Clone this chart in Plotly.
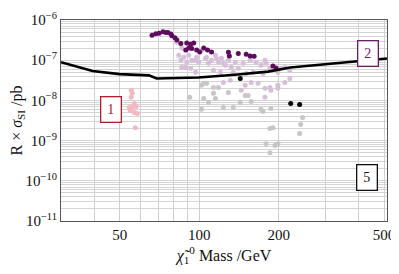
import math
import plotly.graph_objects as go

# Limit curve (black line)
limit_mass = [30, 37.5, 39.5, 50, 64.5, 69, 91, 99.4, 140, 182, 221, 478, 513]
limit_sigma = [8.9e-8, 5.9e-8, 5.4e-8, 4.5e-8, 4.2e-8, 3.5e-8, 3.55e-8, 3.7e-8, 4.4e-8, 5.2e-8, 6.6e-8, 1.07e-7, 1.1e-7]

# Dark purple points
dark_mass = [66.3, 68.5, 70.5, 72.9, 74.8, 76.1, 78.1, 78.8, 80.9, 82.3, 85.2, 88.9, 89.7, 92.8, 95.3,
             91.3, 93.7, 97.8, 100.4, 104, 107.5, 111.3, 128.9, 130, 140.5, 150.5, 155.8, 161.3, 190, 195]
dark_sigma = [4.2e-7, 4.55e-7, 4.7e-7, 5.1e-7, 4.9e-7, 4.9e-7, 4.5e-7, 4.05e-7, 3.6e-7, 3.2e-7, 2.6e-7, 1.8e-7, 2.66e-7, 2.5e-7, 2.66e-7,
              2.0e-7, 1.96e-7, 1.8e-7, 1.6e-7, 2.0e-7, 1.8e-7, 1.6e-7, 1.58e-7, 1.28e-7, 1.47e-7, 1.41e-7, 1.28e-7, 1.26e-7, 7.2e-8, 6.4e-8]

# Light lavender points
lav_mass = [85.9, 83.7, 87.4, 91.3, 85.2, 89.7, 93.7, 85.9, 92.8, 97.8, 99.5, 102, 105.7, 96.9, 82.3,
            88.9, 96.9, 106.6, 108.4, 111.3, 115.2, 118.2, 121.3, 125.6, 128.9, 132.2, 136.9, 140.5, 116.2,
            123.4, 146.6, 155.8, 164.1, 171.3, 178.9, 185.1, 113.2, 120.3, 134.5, 150.5, 159.9, 174.2, 201.8,
            103.9, 113.2, 123.4, 131.1, 149.2, 157.2, 166.9, 177.2, 185.1, 198.4, 210.7, 220, 144.1, 153.2,
            177.2, 186.7, 198.4, 177.2, 198.4, 210.7, 220]
lav_sigma = [2.0e-7, 1.33e-7, 1.19e-7, 1.33e-7, 1.0e-7, 8.9e-8, 1.0e-7, 6.7e-8, 6.3e-8, 1.19e-7, 8.9e-8, 1.78e-7, 1.12e-7, 5.0e-8, 2.8e-7,
             6.7e-8, 1.0e-7, 1.19e-7, 8.4e-8, 1.0e-7, 1.33e-7, 8.9e-8, 1.12e-7, 7.5e-8, 1.0e-7, 6.7e-8, 8.9e-8, 6.3e-8, 1.12e-7,
             8.4e-8, 8.4e-8, 1.0e-7, 8.9e-8, 7.5e-8, 8.4e-8, 6.3e-8, 5.6e-8, 5.0e-8, 5.0e-8, 4.7e-8, 5.0e-8, 4.7e-8, 6.3e-8,
             2.66e-8, 2.1e-8, 2.8e-8, 3.16e-8, 2.37e-8, 2.8e-8, 2.66e-8, 2.0e-8, 2.1e-8, 2.37e-8, 2.8e-8, 3.5e-8, 1.78e-8, 1.33e-8,
             1.19e-8, 1.78e-8, 2.0e-8, 1.0e-7, 5.0e-8, 6.7e-8, 5.6e-8]

# Grey points
grey_mass = [92, 102, 102, 106.6, 103.9, 108.4, 113.2, 118.2, 123.4, 128.9, 134.5, 142.9, 149.2, 157.2, 171.3,
             174.2, 186.7, 185.1, 190, 246, 241.8, 239.7, 178.9, 185.1, 193.3, 198.4, 115.2]
grey_sigma = [1.19e-8, 2.37e-8, 6.0e-9, 2.66e-8, 1.12e-8, 8.9e-9, 1.5e-8, 2.1e-8, 6.7e-9, 1.58e-8, 6.7e-9, 8.9e-9, 1.33e-8, 9.4e-9, 6.0e-9,
              5.3e-9, 6.3e-9, 2.0e-9, 2.1e-9, 3.76e-9, 2.5e-9, 1.5e-9, 8.4e-10, 5.0e-10, 7.5e-10, 8.4e-10, 1.12e-8]

# Black points
black_mass = [142.9, 221.8, 239.7]
black_sigma = [3.5e-8, 8.4e-9, 7.9e-9]

# Pink points (region 1)
pink_mass = [55.3, 55.8, 55.3, 56.8, 55.8, 57.8, 54.8, 56.8, 58.3, 57.3, 54.4]
pink_sigma = [1.78e-8, 1.5e-8, 1.19e-8, 8.4e-9, 6.7e-9, 7.1e-9, 5.6e-9, 5.0e-9, 4.7e-9, 2.1e-9, 6.7e-9]

# Region labels
region_labels = ["1", "2", "5"]
region_mass = [46.2, 435, 430]
region_sigma = [6.1e-9, 1.5e-7, 1.19e-10]
region_colors = ["#b0202a", "#6a1a6a", "#111111"]

# Ticks
x_labeled = [50, 100, 200, 500]
x_minor = [40, 60, 70, 80, 90, 300, 400]
y_decades = [-11, -10, -9, -8, -7, -6]

serif = "Liberation Serif, Times New Roman, serif"

fig = go.Figure()

def add_pts(xs, ys, color):
    fig.add_trace(go.Scatter(x=xs, y=ys, mode="markers",
                             marker=dict(size=5, color=color, line=dict(width=0)),
                             showlegend=False, hoverinfo="skip"))

add_pts(lav_mass, lav_sigma, "#d6bfd8")
add_pts(grey_mass, grey_sigma, "#c6c6c6")
add_pts(pink_mass, pink_sigma, "#f2b9c2")
add_pts(dark_mass, dark_sigma, "#5e0c5e")

fig.add_trace(go.Scatter(x=limit_mass, y=limit_sigma, mode="lines",
                         line=dict(color="black", width=2.6), showlegend=False, hoverinfo="skip"))
add_pts(black_mass, black_sigma, "#000000")

for lab, mx, sy, col in zip(region_labels, region_mass, region_sigma, region_colors):
    fig.add_annotation(x=math.log10(mx), y=math.log10(sy), xref="x", yref="y", text=lab, showarrow=False,
                       font=dict(family=serif, size=14, color=col),
                       bordercolor=col, borderwidth=1.3, borderpad=3, bgcolor="white",
                       width=13, height=18)

y_major = [10.0 ** d for d in y_decades]
y_text = [f"10<sup>\u2212{-d}</sup>" for d in y_decades]
y_minor = [k * 10.0 ** d for d in y_decades[:-1] for k in range(2, 10)]

fig.update_xaxes(type="log", range=[math.log10(30), math.log10(513)],
                 tickmode="array", tickvals=x_labeled, ticktext=[str(v) for v in x_labeled],
                 showgrid=True, gridcolor="#cfcfcf", gridwidth=1,
                 minor=dict(tickmode="array", tickvals=x_minor, showgrid=True,
                            gridcolor="#cfcfcf", gridwidth=1, ticks=""),
                 showline=True, linecolor="#555555", linewidth=1, mirror=True,
                 ticks="", zeroline=False, automargin=False, ticklabeloverflow="allow",
                 tickfont=dict(family=serif, size=15, color="#111111"),
                 title=dict(text="<i>\u03c7\u0303</i><sub>1</sub><sup>0</sup> Mass /GeV",
                            font=dict(family=serif, size=16, color="#111111"), standoff=10))
fig.update_yaxes(type="log", range=[-11, -6],
                 tickmode="array", tickvals=y_major, ticktext=y_text,
                 showgrid=True, gridcolor="#d4d4d4", gridwidth=1,
                 minor=dict(tickmode="array", tickvals=y_minor, showgrid=True,
                            gridcolor="#d4d4d4", gridwidth=1, ticks=""),
                 showline=True, linecolor="#555555", linewidth=1, mirror=True,
                 ticks="", zeroline=False, automargin=False,
                 tickfont=dict(family=serif, size=15, color="#111111"),
                 title=dict(text="R \u00d7 <i>\u03c3</i><sub>SI</sub> /pb",
                            font=dict(family=serif, size=16, color="#111111"), standoff=4))

# the page adds an 8px body margin; the figure is sized so the page fits the window
fig.update_layout(width=391, height=258,
                  margin=dict(l=53, r=12, t=12, b=45),
                  paper_bgcolor="white", plot_bgcolor="white")

fig.write_html("out.html")
